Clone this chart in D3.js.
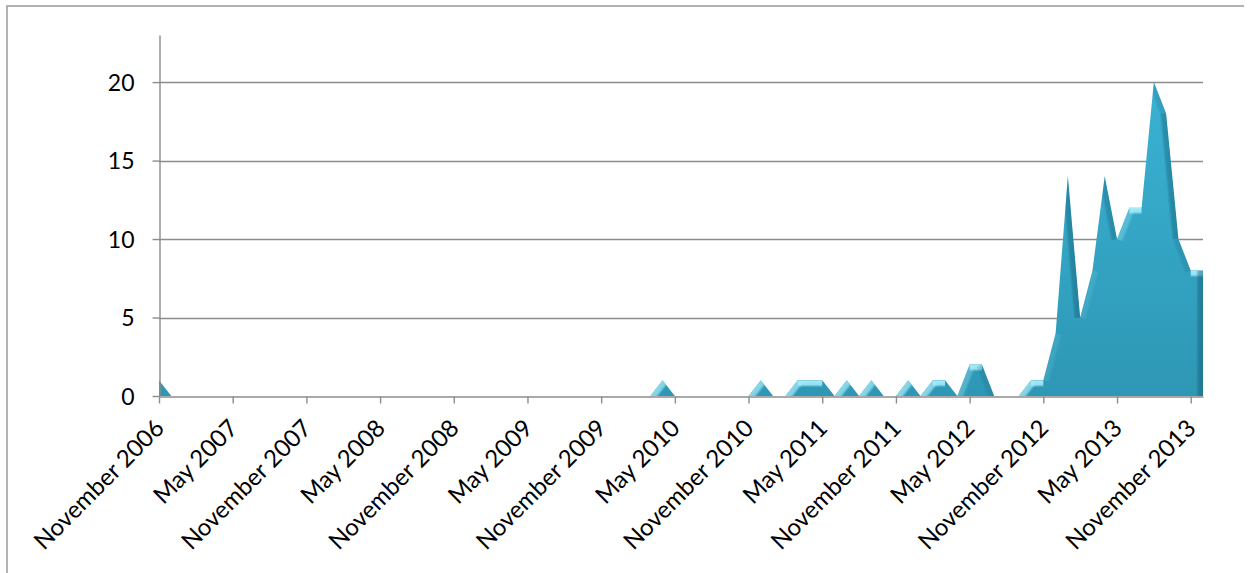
<!DOCTYPE html>
<html>
<head>
<meta charset="utf-8">
<script src="https://cdn.jsdelivr.net/npm/d3@7"></script>
<style>
  body { margin: 0; background: #fff; }
  svg { display: block; }
  text { font-family: Lato, "Open Sans", sans-serif; fill: #000; }
</style>
</head>
<body>
<svg id="chart" width="1253" height="573"></svg>
<script>
// Monthly counts, November 2006 through December 2013
const monthNames = ["January", "February", "March", "April", "May", "June",
  "July", "August", "September", "October", "November", "December"];
const firstYear = 2006;
const firstMonth = 10;   // November (0-based)
const monthCount = 86;
const months = d3.range(monthCount).map(i => {
  const m = firstMonth + i;
  return monthNames[m % 12] + " " + (firstYear + Math.floor(m / 12));
});

const counts = [
  1, 0, 0, 0, 0, 0, 0, 0, 0, 0, 0, 0,        // Nov 2006 - Oct 2007
  0, 0, 0, 0, 0, 0, 0, 0, 0, 0, 0, 0,        // Nov 2007 - Oct 2008
  0, 0, 0, 0, 0, 0, 0, 0, 0, 0, 0, 0,        // Nov 2008 - Oct 2009
  0, 0, 0, 0, 0, 1, 0, 0, 0, 0, 0, 0,        // Nov 2009 - Oct 2010
  0, 1, 0, 0, 1, 1, 1, 0, 1, 0, 1, 0,        // Nov 2010 - Oct 2011
  0, 1, 0, 1, 1, 0, 2, 2, 0, 0, 0, 1,        // Nov 2011 - Oct 2012
  1, 4, 14, 5, 8, 14, 10, 12, 12, 20, 18, 10, // Nov 2012 - Oct 2013
  8, 8                                       // Nov 2013 - Dec 2013
];

const yTicks = [0, 5, 10, 15, 20];
const yMax = 23;
const xTickLabels = months.filter((d, i) => i % 6 === 0);

const svg = d3.select("#chart");
const plotLeft = 159, plotRight = 1203, plotTop = 35, plotBottom = 396;

const x = d3.scalePoint().domain(months).range([plotLeft, plotRight]).padding(0);
const y = d3.scaleLinear().domain([0, yMax]).range([plotBottom, plotTop]);

// Outer frame
svg.append("path")
  .attr("d", "M7,573V6H1244")
  .attr("fill", "none")
  .attr("stroke", "#9a9a9a")
  .attr("stroke-width", 1.5);

// Horizontal gridlines
svg.append("g")
  .selectAll("line")
  .data(yTicks.filter(v => v > 0))
  .join("line")
  .attr("x1", plotLeft).attr("x2", plotRight)
  .attr("y1", d => Math.round(y(d)) + 0.5).attr("y2", d => Math.round(y(d)) + 0.5)
  .attr("stroke", "#8c8c8c")
  .attr("stroke-width", 1.4);

// Area fill
const defs = svg.append("defs");
const fillGrad = defs.append("linearGradient")
  .attr("id", "areaFill")
  .attr("gradientUnits", "userSpaceOnUse")
  .attr("x1", 0).attr("y1", y(20)).attr("x2", 0).attr("y2", plotBottom);
fillGrad.append("stop").attr("offset", 0).attr("stop-color", "#3ab2d3");
fillGrad.append("stop").attr("offset", 1).attr("stop-color", "#2e97b5");

const area = d3.area()
  .x((d, i) => x(months[i]))
  .y0(plotBottom)
  .y1(d => y(d));

const areaPath = area(counts);
defs.append("clipPath").attr("id", "areaClip")
  .append("path").attr("d", areaPath);

svg.append("path")
  .attr("d", areaPath)
  .attr("fill", "url(#areaFill)");

// Bevelled edges: each outline segment gets a band shaded by its facing
const pts = counts.map((v, i) => [x(months[i]), y(v)]);
const segs = [];
for (let i = 0; i < pts.length - 1; i++) {
  if (counts[i] === 0 && counts[i + 1] === 0) continue;
  segs.push([pts[i], pts[i + 1]]);
}
segs.push([pts[pts.length - 1], [plotRight, plotBottom]]);   // right-hand edge

const light = (() => { const lx = -0.35, ly = -1, l = Math.hypot(lx, ly); return [lx / l, ly / l]; })();
const bevel = svg.append("g").attr("clip-path", "url(#areaClip)");
const bandWidth = 7;

segs.forEach(([p1, p2], k) => {
  const dx = p2[0] - p1[0], dy = p2[1] - p1[1];
  const len = Math.hypot(dx, dy);
  if (len === 0) return;
  const ux = dx / len, uy = dy / len;
  const nin = [-uy, ux];              // points into the filled area
  const nout = [uy, -ux];
  const s = nout[0] * light[0] + nout[1] * light[1];
  let color, alpha;
  if (s > 0.5) { color = "#a6ecfb"; alpha = Math.min(1, (s - 0.5) * 2.3); }
  else if (s < 0.3) { color = "#135a72"; alpha = Math.min(0.6, (0.3 - s) * 0.8); }
  else return;

  const gid = "bevel" + k;
  const g = defs.append("linearGradient")
    .attr("id", gid)
    .attr("gradientUnits", "userSpaceOnUse")
    .attr("x1", p1[0]).attr("y1", p1[1])
    .attr("x2", p1[0] + nin[0] * bandWidth).attr("y2", p1[1] + nin[1] * bandWidth);
  g.append("stop").attr("offset", 0).attr("stop-color", color).attr("stop-opacity", alpha);
  g.append("stop").attr("offset", 0.6).attr("stop-color", color).attr("stop-opacity", alpha * 0.85);
  g.append("stop").attr("offset", 1).attr("stop-color", color).attr("stop-opacity", 0);

  const w = bandWidth;
  const poly = [
    p1, p2,
    [p2[0] + nin[0] * w, p2[1] + nin[1] * w],
    [p1[0] + nin[0] * w, p1[1] + nin[1] * w]
  ];
  bevel.append("path")
    .attr("d", "M" + poly.map(p => p.join(",")).join("L") + "Z")
    .attr("fill", `url(#${gid})`);
});

// Y axis
const yAxis = svg.append("g")
  .attr("transform", `translate(${plotLeft + 0.5},0)`)
  .call(d3.axisLeft(y).tickValues(yTicks).tickSize(7).tickSizeOuter(0).tickPadding(18));
yAxis.selectAll("path, line").attr("stroke", "#8c8c8c").attr("stroke-width", 1.4);
yAxis.selectAll("text").attr("font-size", 23).attr("dy", "0.36em");

// X axis
const xAxis = svg.append("g")
  .attr("transform", `translate(0,${plotBottom + 0.5})`)
  .call(d3.axisBottom(x).tickValues(xTickLabels).tickSize(7).tickSizeOuter(0));
xAxis.selectAll("path, line").attr("stroke", "#8c8c8c").attr("stroke-width", 1.4);
xAxis.selectAll("text")
  .attr("font-size", 24)
  .attr("text-anchor", "end")
  .attr("x", 0).attr("y", 0)
  .attr("dy", "0.71em")
  .attr("transform", "translate(-6,21) rotate(-45)");
</script>
</body>
</html>
